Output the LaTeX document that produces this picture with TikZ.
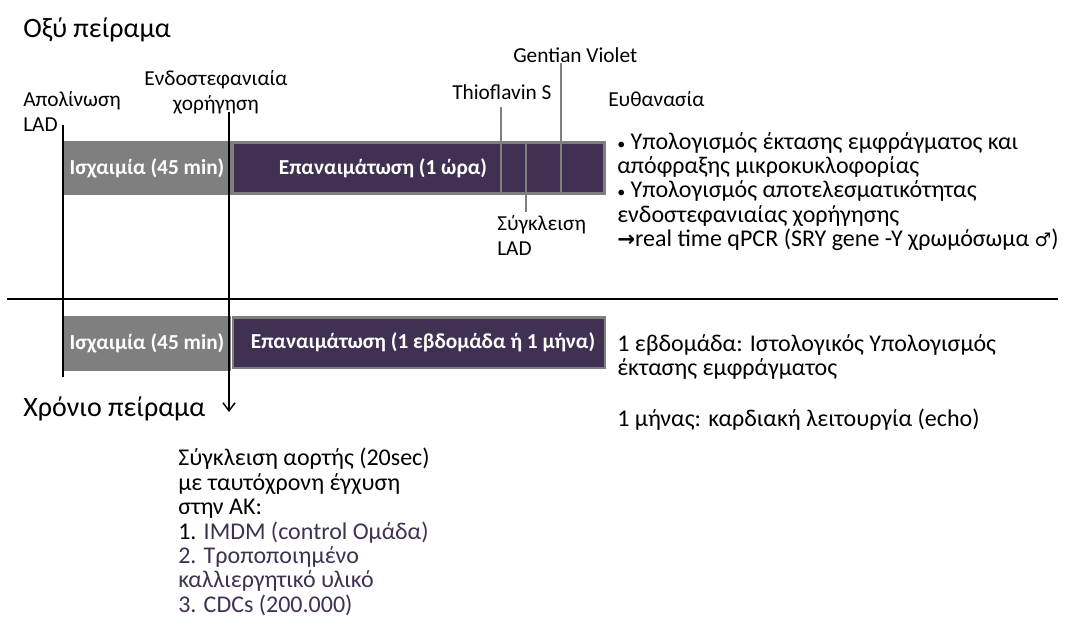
\documentclass[tikz,border=0pt]{standalone}
\usepackage{fontspec}
\setmainfont{Carlito}
\newfontfamily\symbfont{DejaVu Sans}
\usetikzlibrary{arrows.meta}
\definecolor{barpurple}{HTML}{403152}
\definecolor{bargray}{HTML}{7F7F7F}
\newcommand{\smallbullet}{{\fontsize{12}{12}\selectfont •}}

\begin{document}
\begin{tikzpicture}
    [
    x=0.75pt, y=-0.75pt,
    heading/.style={
      anchor=west,
      inner sep=0pt,
      font=\fontsize{21}{24}\selectfont
    },
    tag/.style={
      inner sep=0pt,
      font=\fontsize{16}{19}\selectfont
    },
    body/.style={
      anchor=north west,
      align=left,
      inner sep=0pt,
      font=\fontsize{18}{18.3}\selectfont
    },
    graybar/.style={
      fill=bargray,
      minimum width=126pt,
      inner sep=0pt,
      text=white,
      font=\fontsize{16}{18}\selectfont\bfseries
    },
    purplebar/.style={
      fill=barpurple,
      draw=bargray,
      line width=2pt,
      minimum height=38pt,
      inner sep=0pt,
      text=white,
      font=\fontsize{16}{18}\selectfont\bfseries
    },
    stainline/.style={
      draw=bargray,
      line width=1.5pt
    },
    timeline/.style={
      draw=black,
      line width=1.1pt
    }
    ]
    \useasboundingbox (0,0) rectangle (1087,641);

    % acute experiment
    \node[heading] (acute) at (23,30) {Οξύ πείραμα};
    \node[graybar, minimum height=40.5pt] (ischA) at (147,168) {Ισχαιμία (45 min)};
    \node[purplebar, minimum width=279pt] (reperA) at (418.5,168) {};
    \node[purplebar, draw=none, fill=none] (reperAtext) at (383,168) {Επαναιμάτωση (1 ώρα)};

    \node[tag, anchor=north west, align=left] (ligation) at (23,91) {Απολίνωση\\LAD};
    \node[tag, align=center] (injection) at (216,92) {Ενδοστεφανιαία\\χορήγηση};
    \node[tag, anchor=west] (thioflavin) at (452,92) {Thioflavin S};
    \node[tag, anchor=west] (gentian) at (513,55) {Gentian Violet};
    \node[tag, anchor=west] (euthanasia) at (608,99) {Ευθανασία};
    \node[tag, anchor=north west, align=left] (occlusion) at (497,215) {Σύγκλειση\\LAD};

    \node[body] (acuteres) at (617,132)
      {\smallbullet\ Υπολογισμός έκτασης εμφράγματος και\\
       απόφραξης μικροκυκλοφορίας\\
       \smallbullet\ Υπολογισμός αποτελεσματικότητας\\
       ενδοστεφανιαίας χορήγησης\\
       {\symbfont\bfseries\fontsize{16}{18}\selectfont →}real time qPCR (SRY gene -Y χρωμόσωμα {\symbfont\fontsize{14}{18}\selectfont ♂})};

    % staining and occlusion marks
    \coordinate (thiotop) at (501,107);
    \coordinate (occbot) at (526,212);
    \coordinate (gentop) at (561,63);
    \draw[stainline] (thiotop) -- (thiotop |- reperA.south);
    \draw[stainline] (occbot |- reperA.north) -- (occbot);
    \draw[stainline] (gentop) -- (gentop |- reperA.south);

    % separator
    \coordinate (sepL) at (7,299);
    \coordinate (sepR) at (1058,299);
    \draw[line width=1.5pt] (sepL) -- (sepR);

    % chronic experiment
    \node[graybar, minimum height=41.25pt] (ischB) at (147,343.5) {Ισχαιμία (45 min)};
    \node[purplebar, minimum width=279pt] (reperB) at (419,342.5) {};
    \node[purplebar, draw=none, fill=none] (reperBtext) at (423,342.5) {Επαναιμάτωση (1 εβδομάδα ή 1 μήνα)};
    \node[heading] (chronic) at (23,409) {Χρόνιο πείραμα};

    \node[body] (weekres) at (617,334)
      {1 εβδομάδα: Ιστολογικός Υπολογισμός\\
       έκτασης εμφράγματος};
    \node[body, anchor=west] (monthres) at (617,420) {1 μήνας: καρδιακή λειτουργία (echo)};

    \node[body] (protocol) at (178,448)
      {Σύγκλειση αορτής (20sec)\\
       με ταυτόχρονη έγχυση\\
       στην ΑΚ:\\
       1. \textcolor{barpurple}{IMDM (control Ομάδα)}\\
       \textcolor{barpurple}{2. Τροποποιημένο}\\
       \textcolor{barpurple}{καλλιεργητικό υλικό}\\
       \textcolor{barpurple}{3. CDCs (200.000)}};

    % time lines
    \coordinate (ligtop) at (63,125);
    \coordinate (ligbot) at (63,377);
    \coordinate (injtop) at (229,112);
    \coordinate (injbot) at (229,412);
    \draw[timeline] (ligtop) -- (ligbot);
    \draw[timeline, -{Straight Barb[length=6pt, width=9pt]}] (injtop) -- (injbot);
  \end{tikzpicture}
\end{document}
